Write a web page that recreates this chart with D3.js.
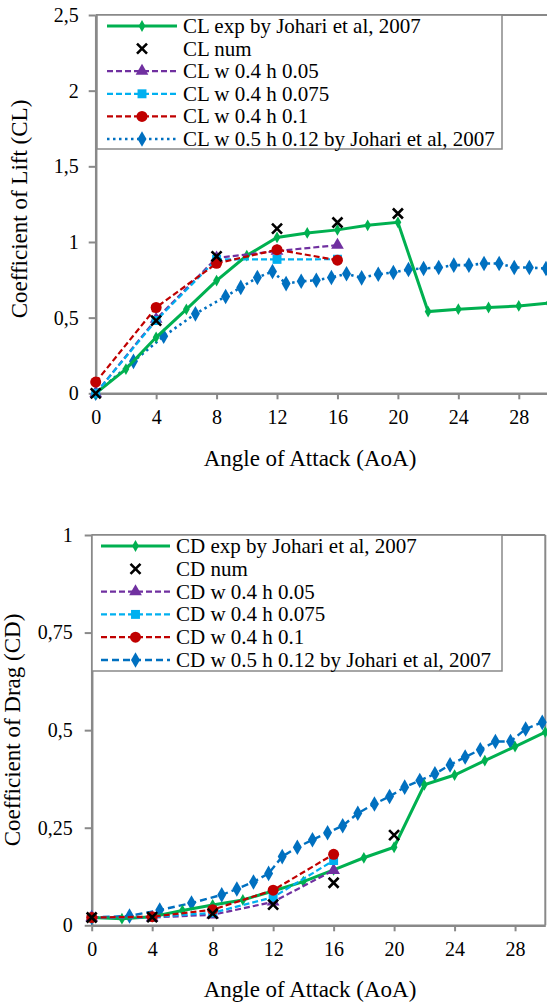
<!DOCTYPE html>
<html>
<head>
<meta charset="utf-8">
<script src="https://cdn.jsdelivr.net/npm/d3@7"></script>
<style>
  body { margin: 0; background: #fff; }
  svg { display: block; font-family: "Liberation Serif", "Times New Roman", serif; }
  .axis path, .axis line { stroke: #898989; }
  .axis text { font-size: 20px; fill: #000; font-family: "Liberation Serif", serif; }
</style>
</head>
<body>
<script>
// angles of attack
var aoaExp = [0, 2, 4, 6, 8, 10, 12, 14, 16, 18, 20, 22, 24, 26, 28, 30];
var aoaNum = [0, 4, 8, 12, 16, 20];
var aoaSim = [0, 4, 8, 12, 16];
var aoaJohari = [0, 2.5, 4.5, 6.6, 8.6, 9.6, 10.7, 11.7, 12.6, 13.6, 14.6, 15.6, 16.6, 17.6, 18.7, 19.7, 20.7, 21.7, 22.7, 23.7, 24.7, 25.7, 26.7, 27.7, 28.7, 29.8];

// lift
var clExp = [0, 0.16, 0.37, 0.555, 0.745, 0.91, 1.03, 1.06, 1.08, 1.11, 1.13, 0.54, 0.556, 0.567, 0.577, 0.597];
var clNum = [0, 0.48, 0.905, 1.088, 1.129, 1.188];
var clW04h005 = [0, 0.49, 0.895, 0.94, 0.979];
var clW04h0075 = [0, 0.481, 0.885, 0.885, 0.886];
var clW04h01 = [0.074, 0.567, 0.859, 0.949, 0.88];
var clW05h012 = [0, 0.211, 0.377, 0.525, 0.64, 0.70, 0.765, 0.805, 0.725, 0.74, 0.747, 0.765, 0.79, 0.763, 0.787, 0.798, 0.818, 0.825, 0.831, 0.847, 0.847, 0.858, 0.858, 0.831, 0.831, 0.825];

// drag
var cdExp = [0.02, 0.017, 0.022, 0.038, 0.052, 0.065, 0.088, 0.112, 0.142, 0.173, 0.2, 0.36, 0.385, 0.422, 0.458, 0.495];
var cdNum = [0.02, 0.021, 0.03, 0.053, 0.109, 0.231];
var cdW04h005 = [0.02, 0.02, 0.027, 0.06, 0.141];
var cdW04h0075 = [0.02, 0.021, 0.032, 0.072, 0.166];
var cdW04h01 = [0.02, 0.022, 0.04, 0.09, 0.182];
var cdW05h012 = [0.02, 0.024, 0.039, 0.057, 0.078, 0.093, 0.111, 0.133, 0.176, 0.2, 0.219, 0.237, 0.255, 0.287, 0.311, 0.33, 0.354, 0.371, 0.388, 0.411, 0.431, 0.45, 0.471, 0.471, 0.503, 0.52];

var xTicks = [0, 4, 8, 12, 16, 20, 24, 28];
var clTicks = [0, 0.5, 1, 1.5, 2, 2.5];
var cdTicks = [0, 0.25, 0.5, 0.75, 1];

var colors = { exp: "#00b050", num: "#000", purple: "#7030a0", cyan: "#00b0f0", red: "#c00000", blue: "#0070c0" };

var svg = d3.select("body").append("svg")
    .attr("width", 547)
    .attr("height", 1007);

function zip(xs, ys) {
    return xs.map(function (x, i) { return { x: x, y: ys[i] }; });
}

function drawChart(cfg) {
    var width = cfg.right - cfg.left;
    var height = cfg.bottom - cfg.top;
    var g = svg.append("g").attr("transform", "translate(" + cfg.left + "," + cfg.top + ")");

    var x = d3.scaleLinear().domain([0, 30]).range([0, width]);
    var y = d3.scaleLinear().domain([0, cfg.ymax]).range([height, 0]);

    // frame (top + right)
    g.append("line").attr("x1", 0).attr("x2", width).attr("y1", 0).attr("y2", 0)
        .attr("stroke", "#898989").attr("stroke-width", 2);
    g.append("line").attr("x1", width).attr("x2", width).attr("y1", 0).attr("y2", height)
        .attr("stroke", "#898989").attr("stroke-width", 2);

    g.append("g").attr("class", "axis")
        .attr("transform", "translate(0," + height + ")")
        .call(d3.axisBottom(x).tickValues(xTicks).tickSize(6).tickSizeOuter(0).tickPadding(11));
    g.append("g").attr("class", "axis")
        .call(d3.axisLeft(y).tickValues(cfg.yticks).tickSize(7).tickSizeOuter(0).tickPadding(cfg.ypad)
            .tickFormat(function (d) { return String(d).replace(".", ","); }));
    g.selectAll(".axis path").attr("stroke-width", 2.5);
    g.selectAll(".axis line").attr("stroke-width", 2);

    svg.append("text")
        .attr("x", cfg.xTitleX).attr("y", cfg.xTitleY)
        .attr("text-anchor", "middle").attr("dominant-baseline", "middle")
        .style("font-size", "23px")
        .text("Angle of Attack (AoA)");
    // rotated title, positioned by its baseline
    svg.append("text")
        .attr("transform", "translate(" + cfg.yTitleX + "," + cfg.yTitleY + ") rotate(-90)")
        .attr("text-anchor", "middle")
        .style("font-size", "23px")
        .text(cfg.yTitle);

    var line = d3.line().x(function (d) { return x(d.x); }).y(function (d) { return y(d.y); });

    function series(s) {
        var pts = zip(s.xs, s.ys);
        if (s.dash !== undefined) {
            g.append("path").datum(pts)
                .attr("d", line)
                .attr("fill", "none")
                .attr("stroke", s.color)
                .attr("stroke-width", s.lw)
                .attr("stroke-dasharray", s.dash);
        }
        g.selectAll(null).data(pts).enter()
            .append("g")
            .attr("transform", function (d) { return "translate(" + x(d.x) + "," + y(d.y) + ")"; })
            .each(function () { marker(d3.select(this), s); });
    }

    cfg.series.forEach(series);

    // legend
    var lg = g.append("g").attr("transform", "translate(" + cfg.legend.x + ",0)");
    lg.append("rect")
        .attr("x", 0).attr("y", 0)
        .attr("width", cfg.legend.w).attr("height", cfg.legend.h)
        .attr("fill", "#fff").attr("stroke", "#898989").attr("stroke-width", 1.5);
    cfg.legendOrder.forEach(function (s, i) {
        var row = lg.append("g").attr("transform", "translate(0," + (cfg.legend.y0 + i * cfg.legend.dy) + ")");
        if (s.dash !== undefined) {
            row.append("line")
                .attr("x1", cfg.legend.l1).attr("x2", cfg.legend.l2)
                .attr("stroke", s.color).attr("stroke-width", s.lw)
                .attr("stroke-dasharray", s.dash);
        }
        var m = row.append("g").attr("transform", "translate(" + ((cfg.legend.l1 + cfg.legend.l2) / 2) + ",0)");
        marker(m, s);
        row.append("text")
            .attr("x", cfg.legend.tx).attr("y", 0)
            .attr("dominant-baseline", "central")
            .style("font-size", "21px")
            .text(s.name);
    });
}

function marker(sel, s) {
    if (s.shape === "x") {
        var r = 5;
        sel.append("path")
            .attr("d", "M" + (-r) + "," + (-r) + "L" + r + "," + r + "M" + (-r) + "," + r + "L" + r + "," + (-r))
            .attr("stroke", "#000").attr("stroke-width", 2.6).attr("fill", "none");
        return;
    }
    var types = { diamond: d3.symbolDiamond, triangle: d3.symbolTriangle, square: d3.symbolSquare, circle: d3.symbolCircle };
    sel.append("path")
        .attr("d", d3.symbol().type(types[s.shape]).size(s.size))
        .attr("fill", s.color);
}

function seriesSet(prefix, ys, xsJohari, blueDash) {
    return {
        exp: { name: prefix + " exp by Johari et al, 2007", xs: aoaExp, ys: ys.exp, color: colors.exp, lw: 3, dash: "none", shape: "diamond", size: 40 },
        num: { name: prefix + " num", xs: aoaNum, ys: ys.num, color: colors.num, shape: "x" },
        h005: { name: prefix + " w 0.4 h 0.05", xs: aoaSim, ys: ys.h005, color: colors.purple, lw: 2.2, dash: "6,3", shape: "triangle", size: 70 },
        h0075: { name: prefix + " w 0.4 h 0.075", xs: aoaSim, ys: ys.h0075, color: colors.cyan, lw: 2.2, dash: "6,3", shape: "square", size: 80 },
        h01: { name: prefix + " w 0.4 h 0.1", xs: aoaSim, ys: ys.h01, color: colors.red, lw: 2.2, dash: "6,3", shape: "circle", size: 95 },
        w05: { name: prefix + " w 0.5 h 0.12 by Johari et al, 2007", xs: xsJohari, ys: ys.w05, color: colors.blue, lw: blueDash[0], dash: blueDash[1], shape: "diamond", size: 70 }
    };
}

var cl = seriesSet("CL", { exp: clExp, num: clNum, h005: clW04h005, h0075: clW04h0075, h01: clW04h01, w05: clW05h012 }, aoaJohari, [2.6, "2.5,3.5"]);
var cd = seriesSet("CD", { exp: cdExp, num: cdNum, h005: cdW04h005, h0075: cdW04h0075, h01: cdW04h01, w05: cdW05h012 }, aoaJohari, [2.4, "7,4"]);

drawChart({
    left: 95.7, right: 549, top: 15, bottom: 393.3,
    ymax: 2.5, yticks: clTicks, ypad: 10,
    yTitle: "Coefficient of Lift (CL)", yTitleX: 26.5, yTitleY: 209,
    xTitleX: 310, xTitleY: 461,
    series: [cl.w05, cl.exp, cl.h005, cl.h0075, cl.h01, cl.num],
    legendOrder: [cl.exp, cl.num, cl.h005, cl.h0075, cl.h01, cl.w05],
    legend: { x: 1.3, w: 405, h: 134, y0: 11, dy: 22.6, l1: 10, l2: 80, tx: 86 }
});

drawChart({
    left: 91.7, right: 545.3, top: 535, bottom: 925.3,
    ymax: 1, yticks: cdTicks, ypad: 12,
    yTitle: "Coefficient of Drag (CD)", yTitleX: 20, yTitleY: 730,
    xTitleX: 310, xTitleY: 992,
    series: [cd.w05, cd.exp, cd.h005, cd.h0075, cd.h01, cd.num],
    legendOrder: [cd.exp, cd.num, cd.h005, cd.h0075, cd.h01, cd.w05],
    legend: { x: 0.3, w: 410, h: 136, y0: 11, dy: 22.8, l1: 9, l2: 78, tx: 84 }
});
</script>
</body>
</html>
